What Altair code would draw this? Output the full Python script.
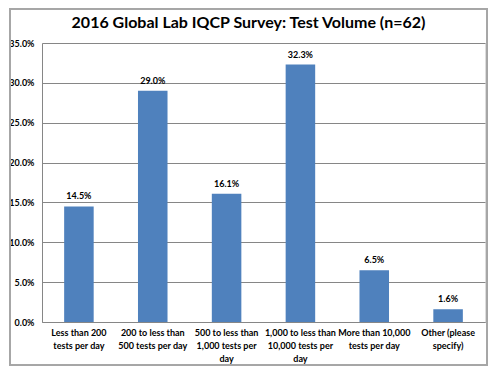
import altair as alt
import pandas as pd

categories = [
    "Less than 200\ntests per day",
    "200 to less than\n500 tests per day",
    "500 to less than\n1,000 tests per\nday",
    "1,000 to less than\n10,000 tests per\nday",
    "More than 10,000\ntests per day",
    "Other (please\nspecify)",
]
values = [0.145, 0.290, 0.161, 0.323, 0.065, 0.016]

df = pd.DataFrame({"category": categories, "value": values})

FONT = "Lato"

x = alt.X(
    "category:N",
    sort=categories,
    title=None,
    scale=alt.Scale(paddingInner=0.6, paddingOuter=0.3),
    axis=alt.Axis(
        labelExpr="split(datum.value, '\\n')",
        labelAngle=0,
        labelFont=FONT,
        labelFontSize=9,
        labelFontWeight="bold",
        labelColor="#000000",
        labelLineHeight=13,
        labelPadding=6,
        ticks=False,
        domainColor="#868686",
        labelLimit=200,
    ),
)
y = alt.Y(
    "value:Q",
    title=None,
    scale=alt.Scale(domain=[0, 0.35], nice=False),
    axis=alt.Axis(
        format=".1%",
        values=[0, 0.05, 0.10, 0.15, 0.20, 0.25, 0.30, 0.35],
        labelFont=FONT,
        labelFontSize=9,
        labelFontWeight="bold",
        labelColor="#000000",
        labelPadding=8,
        ticks=False,
        domainColor="#868686",
        gridColor="#868686",
        gridWidth=1,
    ),
)

bars = alt.Chart(df).mark_bar(color="#4F81BD").encode(x=x, y=y)
labels = alt.Chart(df).mark_text(
    baseline="bottom", dy=-5, font=FONT, fontSize=9, fontWeight="bold", color="#000000"
).encode(x=x, y=y, text=alt.Text("value:Q", format=".1%"))

frame = alt.Chart(df).mark_rect(
    fillOpacity=0, stroke="#A6A6A6", strokeWidth=1.5, x2Offset=2.25, y2Offset=43.25
).encode(
    x=alt.value(-32.25), x2=alt.value("width"), y=alt.value(-34.25), y2=alt.value("height")
)

chart = (
    alt.layer(frame, bars, labels)
    .properties(
        width=480,
        height=358,
        autosize=alt.AutoSizeParams(type="fit", contains="padding"),
        padding={"left": 0, "top": 0, "right": 0, "bottom": 0},
        title=alt.TitleParams(
            "2016 Global Lab IQCP Survey: Test Volume (n=62)",
            font=FONT,
            fontSize=16,
            fontWeight="bold",
            color="#000000",
            anchor="middle",
            dx=-15,
            offset=-23,
        ),
    )
    .configure_view(stroke=None)
    .configure(background="white")
)

chart.save("out.html", embed_options={"renderer": "svg", "actions": False})
